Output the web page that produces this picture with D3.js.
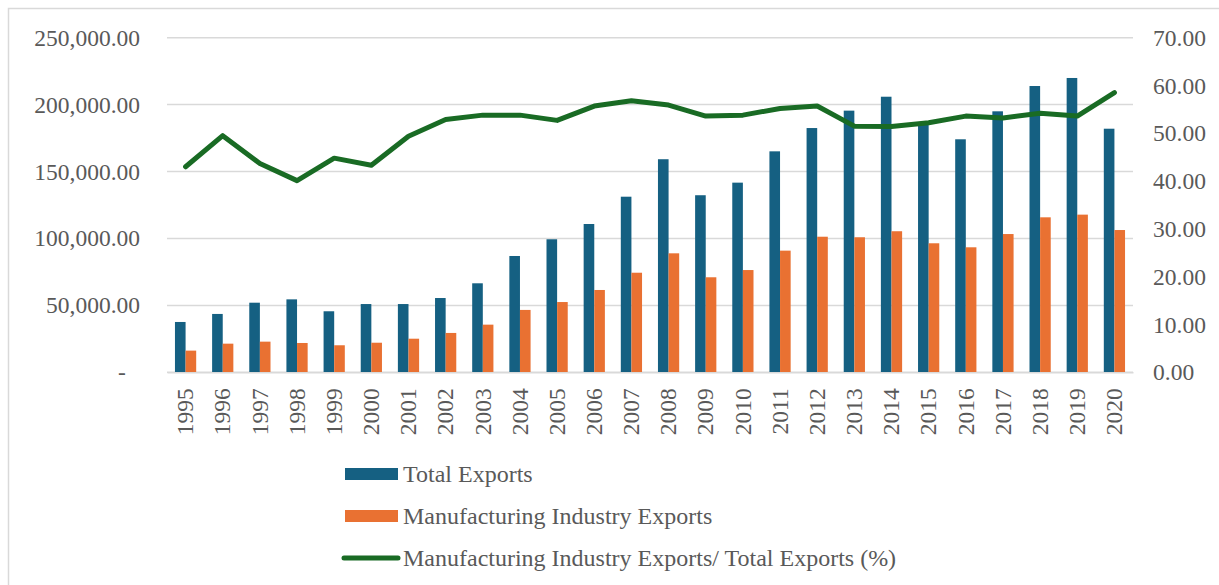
<!DOCTYPE html>
<html>
<head>
<meta charset="utf-8">
<script src="https://cdn.jsdelivr.net/npm/d3@7"></script>
<style>
  body { margin: 0; background: #fff; }
  svg text { font-family: "Liberation Serif", "Times New Roman", serif; fill: #595959; }
</style>
</head>
<body>
<div id="chart"></div>
<script>
var years = ["1995","1996","1997","1998","1999","2000","2001","2002","2003","2004","2005","2006","2007",
             "2008","2009","2010","2011","2012","2013","2014","2015","2016","2017","2018","2019","2020"];
var totalExports = [37600, 43600, 52000, 54500, 45600, 51000, 51000, 55500, 66500, 86900, 99400, 110800, 131200,
                    159200, 132300, 141700, 165100, 182500, 195500, 205900, 186500, 174100, 195000, 213900, 219900, 182000];
var manufExports = [16200, 21400, 22900, 21900, 20200, 22100, 25100, 29400, 35600, 46600, 52500, 61500, 74400,
                    88900, 71000, 76400, 90900, 101300, 100900, 105400, 96400, 93400, 103300, 115800, 117800, 106300];
var sharePct = [43.0, 49.5, 43.7, 40.1, 44.8, 43.3, 49.4, 52.9, 53.8, 53.8, 52.7, 55.7, 56.8,
                55.9, 53.6, 53.8, 55.2, 55.7, 51.5, 51.4, 52.2, 53.6, 53.2, 54.2, 53.6, 58.5];
var leftTicks = [0, 50000, 100000, 150000, 200000, 250000];
var rightTicks = [0, 10, 20, 30, 40, 50, 60, 70];
var seriesNames = ["Total Exports", "Manufacturing Industry Exports", "Manufacturing Industry Exports/ Total Exports (%)"];

var W = 1219, H = 585;
var plotL = 167, plotR = 1133, plotT = 37.7, plotB = 372.3;
var colBlue = "#156082", colOrange = "#E97132", colGreen = "#196B24";

var svg = d3.select("#chart").append("svg").attr("width", W).attr("height", H);

svg.append("rect").attr("x", 8.5).attr("y", 8.5).attr("width", W).attr("height", H)
  .attr("fill", "none").attr("stroke", "#d9d9d9").attr("stroke-width", 1.5);

var x = d3.scaleBand().domain(years).range([plotL, plotR]).padding(0);
var bw = x.step() / 3.5;
var y = d3.scaleLinear().domain([0, 250000]).range([plotB, plotT]);
var yR = d3.scaleLinear().domain([0, 70]).range([plotB, plotT]);

// gridlines
svg.append("g").selectAll("line").data(leftTicks).join("line")
  .attr("x1", plotL).attr("x2", plotR)
  .attr("y1", function(d) { return y(d); }).attr("y2", function(d) { return y(d); })
  .attr("stroke", "#d9d9d9").attr("stroke-width", 1.5);

// left axis
var fmt = d3.format(",.2f");
var ly = svg.append("g").attr("transform", "translate(" + (plotL - 27) + ",0)")
  .call(d3.axisLeft(y).tickValues(leftTicks).tickSize(0).tickPadding(0)
    .tickFormat(function(d) { return d === 0 ? "-" : fmt(d); }));
ly.select(".domain").remove();
ly.selectAll("text").attr("font-size", "23.5px").attr("fill", "#595959")
  .attr("dx", function(d) { return d === 0 ? "-0.6em" : 0; });

// right axis
var ry = svg.append("g").attr("transform", "translate(" + (plotR + 20) + ",0)")
  .call(d3.axisRight(yR).tickValues(rightTicks).tickSize(0).tickPadding(0).tickFormat(d3.format(".2f")));
ry.select(".domain").remove();
ry.selectAll("text").attr("font-size", "23.5px").attr("fill", "#595959");

// bars
var groups = svg.append("g").selectAll("g").data(years).join("g")
  .attr("transform", function(d) { return "translate(" + (x(d) + x.step() / 2) + ",0)"; });
groups.append("rect")
  .attr("x", -bw).attr("width", bw)
  .attr("y", function(d, i) { return y(totalExports[i]); })
  .attr("height", function(d, i) { return y(0) - y(totalExports[i]); })
  .attr("fill", colBlue);
groups.append("rect")
  .attr("x", 0).attr("width", bw)
  .attr("y", function(d, i) { return y(manufExports[i]); })
  .attr("height", function(d, i) { return y(0) - y(manufExports[i]); })
  .attr("fill", colOrange);

// x axis
var xa = svg.append("g").attr("transform", "translate(0," + plotB + ")")
  .call(d3.axisBottom(x).tickSize(0).tickPadding(0));
xa.select(".domain").attr("stroke", "#d9d9d9").attr("stroke-width", 1.5);
xa.selectAll("text").attr("font-size", "23.5px").attr("fill", "#595959")
  .attr("text-anchor", "end").attr("dy", "0.33em")
  .attr("transform", "translate(0,16) rotate(-90)");

// line
var line = d3.line()
  .x(function(d, i) { return x(years[i]) + x.step() / 2; })
  .y(function(d) { return yR(d); });
svg.append("path").datum(sharePct).attr("d", line)
  .attr("fill", "none").attr("stroke", colGreen).attr("stroke-width", 5)
  .attr("stroke-linejoin", "round").attr("stroke-linecap", "round");

// legend
var leg = svg.append("g").attr("transform", "translate(345,474)");
var items = leg.selectAll("g").data(seriesNames).join("g")
  .attr("transform", function(d, i) { return "translate(0," + (i * 42) + ")"; });
items.each(function(d, i) {
  var g = d3.select(this);
  if (i < 2) {
    g.append("rect").attr("x", 0).attr("y", -6).attr("width", 53).attr("height", 12)
      .attr("fill", i === 0 ? colBlue : colOrange);
  } else {
    g.append("line").attr("x1", -1).attr("x2", 53).attr("y1", 0).attr("y2", 0)
      .attr("stroke", colGreen).attr("stroke-width", 5).attr("stroke-linecap", "round");
  }
  g.append("text").attr("x", 58)
    .attr("dy", "0.33em").attr("font-size", "24px").text(d);
});
</script>
</body>
</html>
